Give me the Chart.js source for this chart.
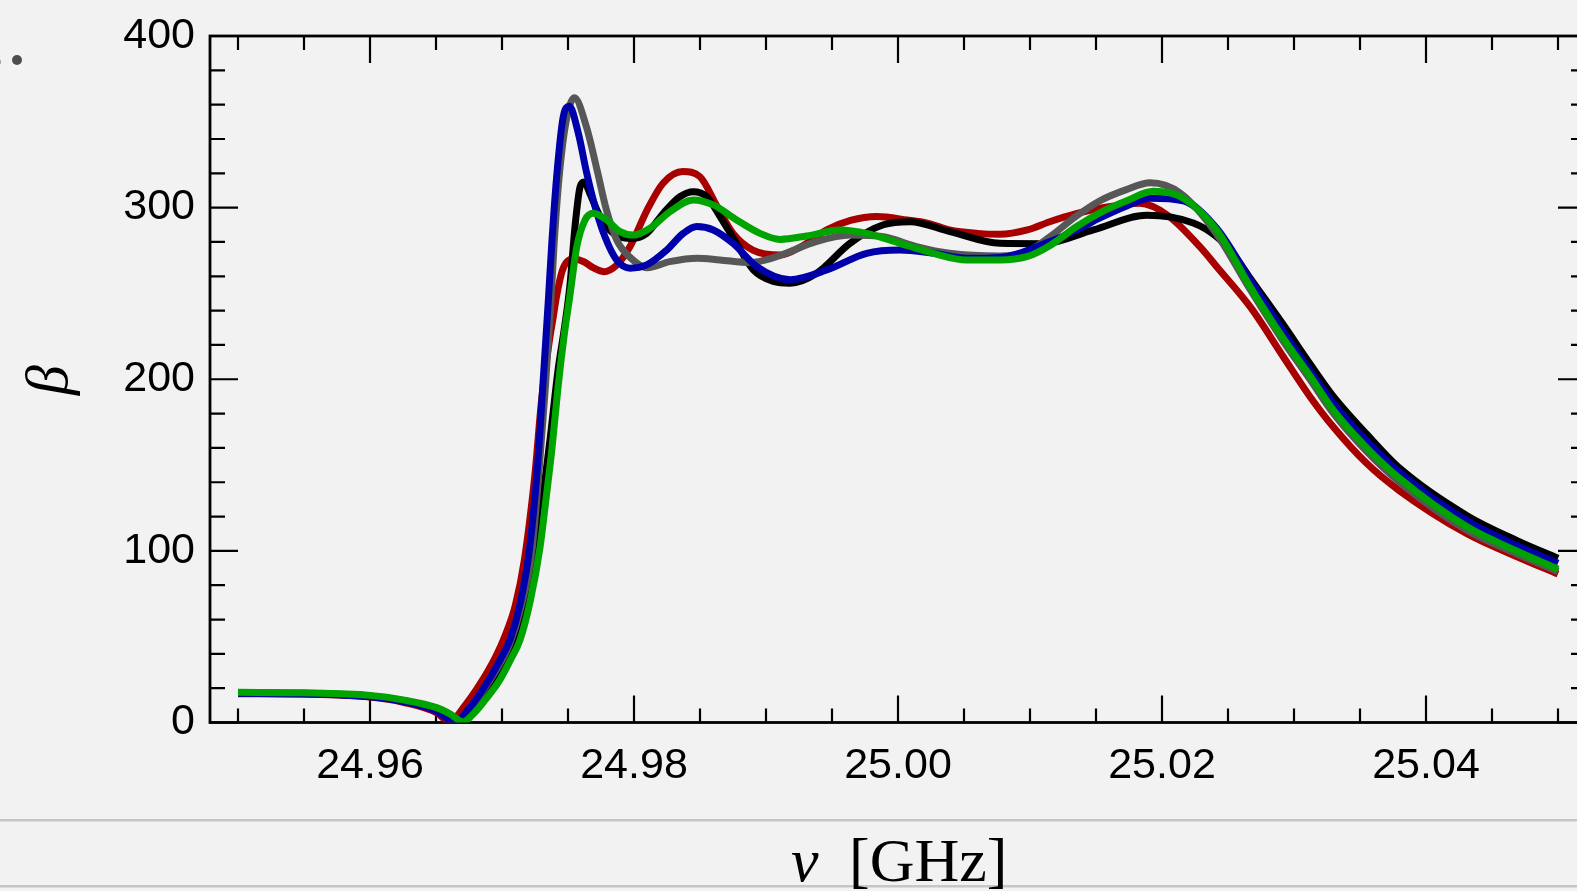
<!DOCTYPE html>
<html>
<head>
<meta charset="utf-8">
<script src="https://cdn.jsdelivr.net/npm/chart.js@4.4.1/dist/chart.umd.min.js"></script>
<style>
  html, body { margin: 0; padding: 0; background: #f2f2f2; overflow: hidden; width: 1577px; height: 891px; }
  #wrap { position: absolute; left: 0; top: 0; width: 1600px; height: 891px; }
  canvas { display: block; }
</style>
</head>
<body>
<div id="wrap"><canvas id="c" width="1600" height="891"></canvas></div>
<script>
// Frequency axis range (GHz) and beta range
const xRange = [24.9478788, 25.0521212];
const yRange = [0, 400];

// Tick positions
const xMajorTicks = [24.96, 24.98, 25.00, 25.02, 25.04];
const xMinorTicks = [24.95, 24.955, 24.96, 24.965, 24.97, 24.975, 24.98, 24.985, 24.99, 24.995,
                     25.00, 25.005, 25.01, 25.015, 25.02, 25.025, 25.03, 25.035, 25.04, 25.045, 25.05];
const yMajorTicks = [0, 100, 200, 300, 400];
const yMinorTicks = [0, 20, 40, 60, 80, 100, 120, 140, 160, 180, 200, 220, 240, 260, 280, 300,
                     320, 340, 360, 380, 400];

// Red series
const nuRed = [24.95, 24.955, 24.96, 24.9625, 24.9651, 24.9660, 24.9672, 24.9683, 24.9695, 24.9702,
  24.9710, 24.9717, 24.9725, 24.9730, 24.9736, 24.9739, 24.9741, 24.9746, 24.9754, 24.9762,
  24.9769, 24.9777, 24.9787, 24.9797, 24.9810, 24.9822, 24.9837, 24.9850, 24.9863, 24.9875,
  24.9890, 24.9911, 24.9926, 24.9946, 24.9964, 24.9984, 25.0007, 25.0022, 25.0039, 25.0060,
  25.0077, 25.0098, 25.0115, 25.0135, 25.0153, 25.0173, 25.0183, 25.0204, 25.0229, 25.0241,
  25.0267, 25.0292, 25.0312, 25.0330, 25.0355, 25.0380, 25.0431, 25.0469, 25.0500];
const betaRed = [16.8, 16.5, 14.8, 11.8, 5.5, 0.3, 10, 22, 38, 50,
  68, 95, 145, 188, 223, 237, 247, 264, 270, 268.5,
  265, 262.7, 266.6, 277.3, 298.7, 314.2, 321, 318, 300.6, 285,
  275.3, 272.4, 277, 287, 292.5, 294.8, 292.8, 291, 287, 285,
  284.5, 287, 291.8, 296.5, 299.6, 302, 302.5, 295.7, 277, 266,
  242, 213, 190, 172, 151, 135, 110, 96.6, 86.5];

// Black series
const nuBlack = [24.95, 24.955, 24.96, 24.9625, 24.9651, 24.96659, 24.96773, 24.96886, 24.96985, 24.97061,
  24.97136, 24.97212, 24.97288, 24.97364, 24.97424, 24.97477, 24.97515, 24.97553, 24.97591, 24.97621,
  24.97667, 24.97742, 24.97843, 24.97970, 24.98096, 24.98222, 24.98348, 24.98449, 24.98551, 24.98652,
  24.98778, 24.98904, 24.99055, 24.99182, 24.99384, 24.99636, 24.99889, 25.00091, 25.00394, 25.00773,
  25.01101, 25.01480, 25.01884, 25.02237, 25.02414, 25.02540, 25.02667, 25.02917, 25.03121, 25.03298,
  25.03551, 25.03803, 25.04311, 25.04690, 25.05];
const betaBlack = [17.2, 16.9, 15.3, 12.6, 7.0, 0.3, 8, 19, 30, 41,
  58, 85, 120, 165, 205, 232, 255, 289, 312, 315,
  308, 295, 285, 282, 285, 296.7, 306.4, 309.3, 306.4, 294.8,
  279, 263.7, 257, 256, 261.8, 279.2, 290, 291.8, 286, 279.2,
  279, 287, 295.5, 291, 283, 273, 259, 232, 209, 190,
  168, 148, 120.5, 106, 95.7];

// Gray series
const nuGray = [24.95, 24.955, 24.96, 24.9625, 24.9651, 24.9664, 24.9676, 24.9687, 24.9699, 24.9706,
  24.9714, 24.97227, 24.97284, 24.97330, 24.97371, 24.97395, 24.97433, 24.97485, 24.97548, 24.9764,
  24.9772, 24.9779, 24.9787, 24.9797, 24.9810, 24.9827, 24.9848, 24.9865, 24.9888, 24.9908,
  24.9938, 24.9964, 24.9989, 25.0014, 25.0039, 25.0077, 25.0098, 25.0115, 25.0135, 25.0153,
  25.0173, 25.0191, 25.0214, 25.0241, 25.0267, 25.0292, 25.0312, 25.0330, 25.0355, 25.0380,
  25.0431, 25.0469, 25.0500];
const betaGray = [17.3, 17.0, 15.5, 12.8, 7.5, 0.3, 8.5, 20, 35, 46,
  66, 100, 150, 197, 246, 279, 318, 350, 364, 347,
  322, 299, 281, 271, 265, 268.5, 270.5, 269.5, 268, 271.4,
  280.2, 284, 283, 277.3, 273.4, 271.8, 274.4, 283, 295, 304,
  310.5, 314.5, 308.4, 285, 252, 222, 200, 180, 158, 140,
  112, 98.2, 88];

// Blue series
const nuBlue = [24.95, 24.955, 24.96, 24.9625, 24.9651, 24.9657, 24.96636, 24.9676, 24.9687, 24.9699,
  24.9706, 24.9714, 24.9721, 24.9727, 24.9731, 24.97351, 24.97377, 24.97414, 24.97464, 24.97510,
  24.97578, 24.97642, 24.97705, 24.97780, 24.97868, 24.97970, 24.98096, 24.98248, 24.98373, 24.98475,
  24.98601, 24.98753, 24.98930, 24.99182, 24.99460, 24.99763, 25.00015, 25.00267, 25.00520, 25.00773,
  25.01152, 25.01354, 25.01530, 25.01733, 25.01909, 25.02161, 25.02414, 25.02667, 25.02917, 25.03121,
  25.03298, 25.03551, 25.03803, 25.04311, 25.04690, 25.05];
const betaBlue = [17.0, 16.7, 15.0, 12.2, 6.3, 3, 0.3, 9, 21, 37,
  48, 70, 102, 150, 197, 246, 279, 318, 353, 359,
  343.4, 320, 300.6, 283, 269.5, 264.7, 266.6, 275.3, 285, 289,
  287, 279, 265.6, 258, 263.7, 273.4, 275.3, 273.4, 270.5, 271,
  280.2, 287, 294, 301, 305.5, 304, 288, 258, 228, 205,
  186, 164, 145.5, 117.5, 103, 92.8];

// Green series
const nuGreen = [24.95, 24.955, 24.96, 24.9625, 24.9651, 24.96606, 24.96705, 24.96795, 24.96871, 24.96985,
  24.97061, 24.97136, 24.97212, 24.97288, 24.97333, 24.97379, 24.97424, 24.97470, 24.97515, 24.97566,
  24.97629, 24.97692, 24.97793, 24.97894, 24.97995, 24.98121, 24.98273, 24.98449, 24.98601, 24.98778,
  24.98955, 24.99106, 24.99308, 24.99561, 24.99763, 25.00015, 25.00267, 25.00520, 25.00773, 25.00975,
  25.01152, 25.01354, 25.01530, 25.01733, 25.01934, 25.02161, 25.02414, 25.02667, 25.02917, 25.03121,
  25.03298, 25.03551, 25.03803, 25.04311, 25.04690, 25.05];
const betaGreen = [17.6, 17.3, 15.8, 13.2, 8.5, 5, 0.5, 6, 13, 25,
  36, 48, 70, 102, 130, 160, 195, 225, 249, 277,
  292.8, 296.7, 292.8, 286, 284, 288, 297.7, 304.5, 301.6, 292.8,
  285, 281.5, 283.5, 287, 285, 279.2, 273.4, 269.5, 269.5, 271.4,
  278, 289, 297, 304, 309.5, 305.5, 287, 254, 224, 202,
  182, 160, 142, 114, 99.8, 89.3];

// Drawing order: lower "order" is painted on top
const series = [
  { name: 'green', nu: nuGreen, beta: betaGreen, color: '#00a400', order: 0 },
  { name: 'blue',  nu: nuBlue,  beta: betaBlue,  color: '#0000aa', order: 1 },
  { name: 'gray',  nu: nuGray,  beta: betaGray,  color: '#575757', order: 2 },
  { name: 'black', nu: nuBlack, beta: betaBlack, color: '#000000', order: 3 },
  { name: 'red',   nu: nuRed,   beta: betaRed,   color: '#a80000', order: 4 }
];

const toPoints = (xs, ys) => xs.map((x, i) => ({ x: x, y: ys[i] }));

// Frame with inward ticks on all four sides
const framePlugin = {
  id: 'frame',
  beforeDatasetsDraw(chart) {
    const ctx = chart.ctx;
    const { left, right, top, bottom } = chart.chartArea;
    const xs = chart.scales.x, ys = chart.scales.y;
    const isMajor = (list, v) => list.some(m => Math.abs(m - v) < 1e-9);
    ctx.save();
    ctx.strokeStyle = '#000';
    ctx.lineWidth = 2.2;
    ctx.beginPath();
    xMinorTicks.forEach(v => {
      const p = xs.getPixelForValue(v);
      const L = isMajor(xMajorTicks, v) ? 27 : 14;
      ctx.moveTo(p, bottom); ctx.lineTo(p, bottom - L);
      ctx.moveTo(p, top); ctx.lineTo(p, top + L);
    });
    yMinorTicks.forEach(v => {
      const p = ys.getPixelForValue(v);
      const L = isMajor(yMajorTicks, v) ? 28 : 15;
      ctx.moveTo(left, p); ctx.lineTo(left + L, p);
      ctx.moveTo(right, p); ctx.lineTo(right - L, p);
    });
    ctx.stroke();
    ctx.lineWidth = 2.8;
    ctx.strokeRect(left, top, right - left, bottom - top);
    ctx.restore();
  }
};

// Axis titles, separator rules and the small marker at the upper left
const decorPlugin = {
  id: 'decor',
  afterDraw(chart) {
    const ctx = chart.ctx;
    ctx.save();
    // separator rules
    ctx.fillStyle = '#c6c8bf';
    ctx.fillRect(0, 819, 1600, 2.5);
    ctx.fillRect(0, 885, 1600, 2.5);
    // marker dots
    ctx.fillStyle = '#4d4d4d';
    ctx.beginPath(); ctx.arc(17, 60, 5, 0, Math.PI * 2); ctx.fill();
    ctx.fillStyle = '#9a9a9a';
    ctx.beginPath(); ctx.arc(-2, 62, 3, 0, Math.PI * 2); ctx.fill();
    // y title
    ctx.fillStyle = '#000';
    ctx.translate(51, 380);
    ctx.rotate(-Math.PI / 2);
    ctx.font = 'italic 60px "Liberation Serif", "DejaVu Serif", serif';
    ctx.textAlign = 'center';
    ctx.textBaseline = 'middle';
    ctx.fillText('β', 0, 0);
    ctx.setTransform(1, 0, 0, 1, 0, 0);
    // x title
    ctx.textAlign = 'left';
    ctx.textBaseline = 'alphabetic';
    ctx.font = 'italic 62px "Liberation Serif", "DejaVu Serif", serif';
    ctx.fillText('ν', 791, 881);
    ctx.font = '62px "Liberation Serif", "DejaVu Serif", serif';
    ctx.fillText('[GHz]', 849, 881);
    ctx.restore();
  }
};

const tickFont = { family: '"Liberation Sans", Arial, sans-serif', size: 43 };

new Chart(document.getElementById('c').getContext('2d'), {
  type: 'line',
  data: {
    datasets: series.map(s => ({
      label: s.name,
      data: toPoints(s.nu, s.beta),
      borderColor: s.color,
      backgroundColor: s.color,
      borderWidth: 7,
      pointRadius: 0,
      fill: false,
      cubicInterpolationMode: 'monotone',
      borderCapStyle: 'butt',
      borderJoinStyle: 'round',
      order: s.order
    }))
  },
  options: {
    responsive: false,
    animation: false,
    devicePixelRatio: 1,
    layout: { padding: { left: 0, top: 36, right: 14, bottom: 0 } },
    plugins: { legend: { display: false }, tooltip: { enabled: false } },
    scales: {
      x: {
        type: 'linear',
        min: xRange[0],
        max: xRange[1],
        grid: { display: false, drawTicks: false },
        border: { display: false },
        afterBuildTicks: s => { s.ticks = xMajorTicks.map(v => ({ value: v })); },
        afterFit: s => { s.height = 168.5; s.paddingLeft = 0; s.paddingRight = 0; },
        ticks: {
          autoSkip: false, maxRotation: 0, minRotation: 0, padding: 18,
          color: '#000', font: tickFont,
          callback: v => Number(v).toFixed(2)
        }
      },
      y: {
        type: 'linear',
        min: yRange[0],
        max: yRange[1],
        grid: { display: false, drawTicks: false },
        border: { display: false },
        afterBuildTicks: s => { s.ticks = yMajorTicks.map(v => ({ value: v })); },
        afterFit: s => { s.width = 210; s.paddingTop = 0; s.paddingBottom = 0; },
        ticks: {
          autoSkip: false, padding: 15,
          color: '#000', font: tickFont,
          callback: v => String(v)
        }
      }
    }
  },
  plugins: [framePlugin, decorPlugin]
});
</script>
</body>
</html>
